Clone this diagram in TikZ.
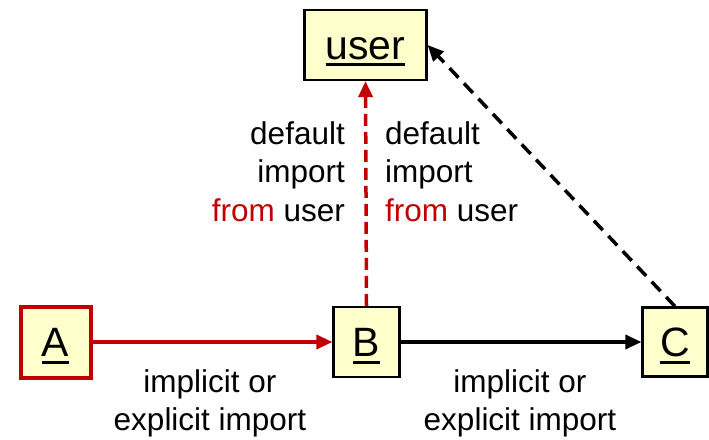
\documentclass[tikz,border=0pt]{standalone}
\usepackage{fontspec}
\setmainfont{Liberation Sans}
\usepackage{xcolor}
\definecolor{importred}{HTML}{C00000}
\definecolor{modfill}{HTML}{FFFFCC}
\usepackage{tikz}
\usetikzlibrary{positioning,arrows.meta}

% underlined module name, the rule takes no depth
\newcommand{\modname}[1]{\setbox0\hbox{#1}\copy0\kern-\wd0\smash{\rule[-7pt]{\wd0}{3pt}}}

\begin{document}
\begin{tikzpicture}[x=1pt,y=-1pt,
		module/.style={draw=black,line width=2.2pt,fill=modfill,inner sep=0pt,
			font=\fontsize{41}{41}\selectfont,text height=29pt,text depth=0pt},
		lbl/.style={inner sep=0pt,font=\fontsize{31.5}{38.5}\selectfont},
		tip/.style={-{Triangle[length=16pt,width=14pt]}}]
	\useasboundingbox (0,0) rectangle (709,439);
	
	% modules
	\node[module,minimum width=122pt,minimum height=70pt] (user) at (365.5,45) {\modname{user}};
	\node[module,draw=importred,line width=4pt,minimum width=70pt,minimum height=71pt] (A) at (55.5,342) {\modname{A}};
	\node[module,minimum width=66pt,minimum height=70pt] (B) at (366.5,342) {\modname{B}};
	\node[module,minimum width=65pt,minimum height=69pt] (C) at (675,342) {\modname{C}};
	
	% imports along the bottom
	\draw[tip,importred,line width=3.5pt] (A) -- (B);
	\draw[tip,black,line width=3.5pt] (B) -- (C);
	\node[lbl,anchor=north,align=center] (AB) at (210,369) {implicit or\\explicit import};
	\node[lbl,anchor=north,align=center] (BC) at (520,369) {implicit or\\explicit import};
	
	% default imports up to user
	\draw[tip,importred,line width=3.5pt,dash pattern=on 12pt off 6pt] (B.north) -- (user.south);
	\draw[tip,black,line width=3.5pt,dash pattern=on 13pt off 8pt] (C.north) -- (user.east);
	\node[lbl,anchor=north east,align=right] (Bdef) at (345,121) {default\\import\\\textcolor{importred}{from} user};
	\node[lbl,anchor=north west,align=left] (Cdef) at (385,121) {default\\import\\\textcolor{importred}{from} user};
\end{tikzpicture}
\end{document}
